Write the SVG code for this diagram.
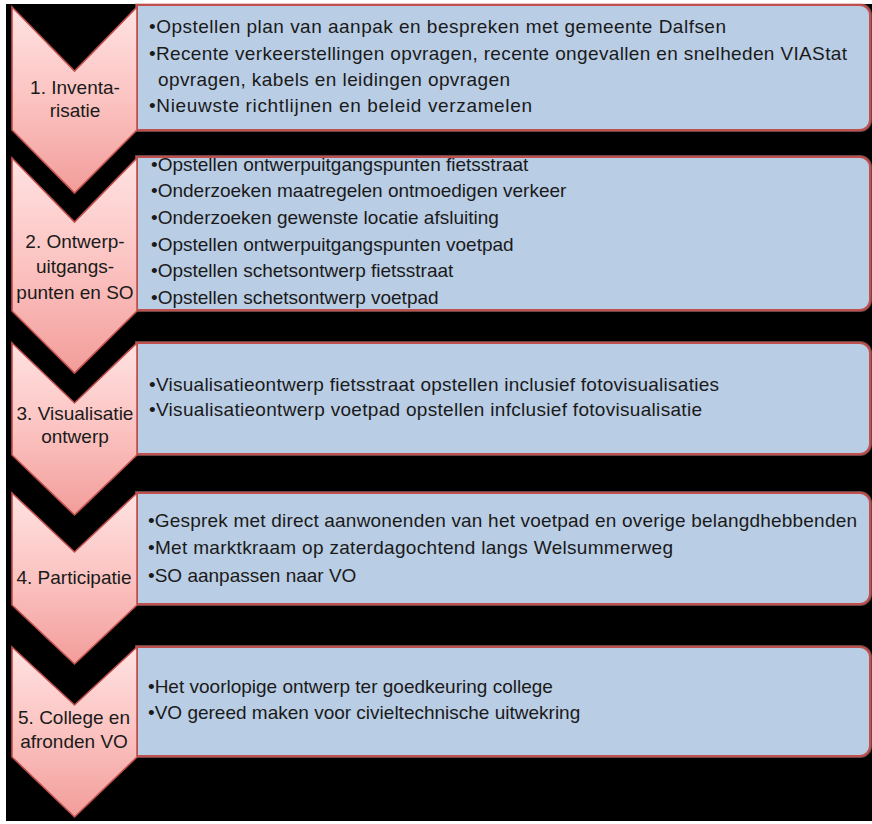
<svg xmlns="http://www.w3.org/2000/svg" width="872" height="824" viewBox="0 0 872 824">
<defs>
<linearGradient id="chev" x1="0" y1="0" x2="0" y2="1">
<stop offset="0" stop-color="#FFE2E2"/>
<stop offset="0.5" stop-color="#FBC3C1"/>
<stop offset="1" stop-color="#F29D9A"/>
</linearGradient>
<style>
.chev{fill:url(#chev);stroke:#C0504D;stroke-width:1.6;stroke-linejoin:miter}
.box{fill:#B9CDE5;stroke:#C0504D;stroke-width:2}
.halo{fill:none;stroke:#D98B89;stroke-width:4;opacity:0.5}
.lbl{font-family:"Liberation Sans",Arial,sans-serif;font-size:19px;fill:#1a1a1a;text-anchor:middle}
.txt{font-family:"Liberation Sans",Arial,sans-serif;font-size:19px;fill:#1a1a1a}
</style>
</defs>
<rect x="0" y="0" width="872" height="824" fill="#ffffff"/>
<rect x="6" y="4" width="866" height="817" fill="#000000"/>
<g id="connectors"/>

<g id="step1">
<g id="step1-box">
<path class="halo" d="M137,5 H860 A10,10 0 0 1 870,15 V120 A10,10 0 0 1 860,130 H137 Z"/>
<path class="box" d="M137,5 H860 A10,10 0 0 1 870,15 V120 A10,10 0 0 1 860,130 H137 Z"/>
<text class="txt" x="149" y="33" textLength="577">•Opstellen plan van aanpak en bespreken met gemeente Dalfsen</text>
<text class="txt" x="149" y="60" textLength="698">•Recente verkeerstellingen opvragen, recente ongevallen en snelheden VIAStat</text>
<text class="txt" x="158" y="86" textLength="352">opvragen, kabels en leidingen opvragen</text>
<text class="txt" x="149" y="112" textLength="383">•Nieuwste richtlijnen en beleid verzamelen</text>
</g>
<g id="step1-chevron">
<polygon class="chev" points="12,7 74.5,71 137,7 137,130 74.5,193 12,130"/>
<text class="lbl" x="75" y="94">1. Inventa-</text>
<text class="lbl" x="75" y="117">risatie</text>
</g>
</g>

<g id="step2">
<g id="step2-box">
<path class="halo" d="M137,157 H860 A10,10 0 0 1 870,167 V300 A10,10 0 0 1 860,310 H137 Z"/>
<path class="box" d="M137,157 H860 A10,10 0 0 1 870,167 V300 A10,10 0 0 1 860,310 H137 Z"/>
<text class="txt" x="151" y="171">•Opstellen ontwerpuitgangspunten fietsstraat</text>
<text class="txt" x="151" y="197">•Onderzoeken maatregelen ontmoedigen verkeer</text>
<text class="txt" x="151" y="224">•Onderzoeken gewenste locatie afsluiting</text>
<text class="txt" x="151" y="251">•Opstellen ontwerpuitgangspunten voetpad</text>
<text class="txt" x="151" y="277">•Opstellen schetsontwerp fietsstraat</text>
<text class="txt" x="151" y="304">•Opstellen schetsontwerp voetpad</text>
</g>
<g id="step2-chevron">
<polygon class="chev" points="12,158 74.5,222 137,158 137,311 74.5,373 12,311"/>
<text class="lbl" x="75" y="248">2. Ontwerp-</text>
<text class="lbl" x="75" y="273">uitgangs-</text>
<text class="lbl" x="75" y="299">punten en SO</text>
</g>
</g>

<g id="step3">
<g id="step3-box">
<path class="halo" d="M137,343 H860 A10,10 0 0 1 870,353 V444 A10,10 0 0 1 860,454 H137 Z"/>
<path class="box" d="M137,343 H860 A10,10 0 0 1 870,353 V444 A10,10 0 0 1 860,454 H137 Z"/>
<text class="txt" x="149" y="391" textLength="570">•Visualisatieontwerp fietsstraat opstellen inclusief fotovisualisaties</text>
<text class="txt" x="149" y="416" textLength="553">•Visualisatieontwerp voetpad opstellen infclusief fotovisualisatie</text>
</g>
<g id="step3-chevron">
<polygon class="chev" points="12,343 74.5,403 137,343 137,455 74.5,515 12,455"/>
<text class="lbl" x="75" y="420">3. Visualisatie</text>
<text class="lbl" x="75" y="443">ontwerp</text>
</g>
</g>

<g id="step4">
<g id="step4-box">
<path class="halo" d="M137,493 H860 A10,10 0 0 1 870,503 V594 A10,10 0 0 1 860,604 H137 Z"/>
<path class="box" d="M137,493 H860 A10,10 0 0 1 870,503 V594 A10,10 0 0 1 860,604 H137 Z"/>
<text class="txt" x="148" y="527" textLength="709">•Gesprek met direct aanwonenden van het voetpad en overige belangdhebbenden</text>
<text class="txt" x="148" y="554" textLength="525">•Met marktkraam op zaterdagochtend langs Welsummerweg</text>
<text class="txt" x="148" y="582">•SO aanpassen naar VO</text>
</g>
<g id="step4-chevron">
<polygon class="chev" points="12,493 74.5,552 137,493 137,605 74.5,664 12,605"/>
<text class="lbl" x="74" y="584">4. Participatie</text>
</g>
</g>

<g id="step5">
<g id="step5-box">
<path class="halo" d="M137,647 H860 A10,10 0 0 1 870,657 V746 A10,10 0 0 1 860,756 H137 Z"/>
<path class="box" d="M137,647 H860 A10,10 0 0 1 870,657 V746 A10,10 0 0 1 860,756 H137 Z"/>
<text class="txt" x="148" y="693">•Het voorlopige ontwerp ter goedkeuring college</text>
<text class="txt" x="148" y="719">•VO gereed maken voor civieltechnische uitwekring</text>
</g>
<g id="step5-chevron">
<polygon class="chev" points="12,647 74.5,705 137,647 137,757 74.5,817 12,757"/>
<text class="lbl" x="74" y="724">5. College en</text>
<text class="lbl" x="74" y="748">afronden VO</text>
</g>
</g>
</svg>
